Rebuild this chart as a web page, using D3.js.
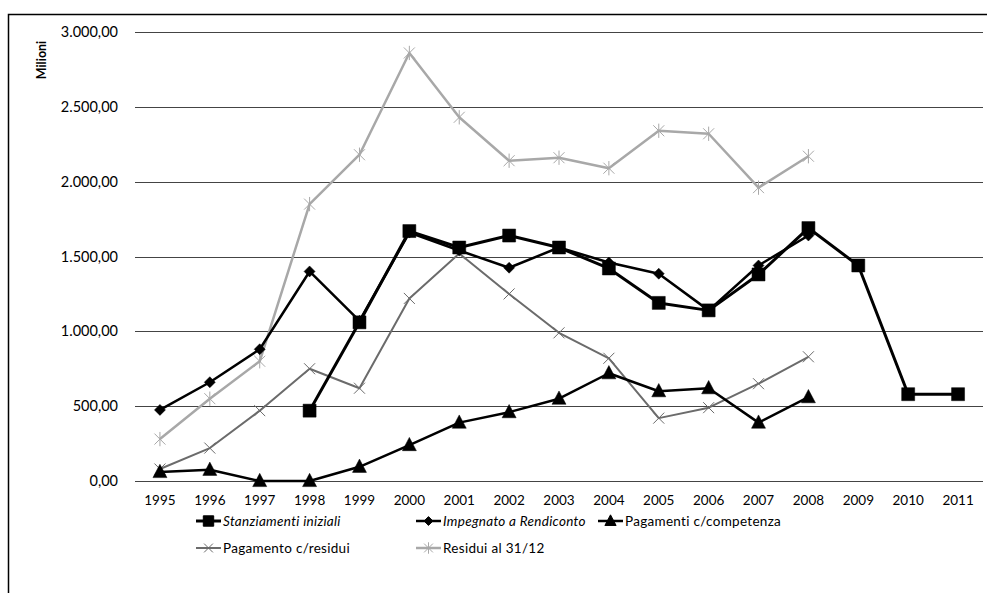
<!DOCTYPE html>
<html>
<head>
<meta charset="utf-8">
<script src="https://cdn.jsdelivr.net/npm/d3@7"></script>
<style>
  body { margin: 0; background: #fff; }
  svg { display: block; font-family: Lato, "Open Sans", sans-serif; }
</style>
</head>
<body>
<div class="chart"></div>
<script>
// -- data (milioni) --
var years = ["1995", "1996", "1997", "1998", "1999", "2000", "2001", "2002",
             "2003", "2004", "2005", "2006", "2007", "2008", "2009", "2010", "2011"];

var stanziamenti = [null, null, null, 470, 1060, 1670, 1560, 1640,
                    1560, 1420, 1190, 1140, 1380, 1690, 1440, 580, 580];
var impegnato = [475, 660, 880, 1400, 1070, 1660, 1540, 1425,
                 1560, 1460, 1385, 1140, 1440, 1640, null, null, null];
var pagCompetenza = [60, 75, 0, 0, 95, 240, 390, 460,
                     550, 720, 600, 620, 390, 560, null, null, null];
var pagResidui = [80, 220, 470, 750, 620, 1220, 1520, 1250,
                  990, 820, 420, 490, 650, 830, null, null, null];
var residui = [280, 550, 800, 1850, 2180, 2860, 2430, 2140,
               2160, 2090, 2340, 2320, 1960, 2170, null, null, null];

var yTicks = [0, 500, 1000, 1500, 2000, 2500, 3000];

var series = [
  {name: "Stanziamenti iniziali", values: stanziamenti, color: "#000", width: 3, symbol: "square", italic: true},
  {name: "Impegnato a Rendiconto", values: impegnato, color: "#000", width: 2.5, symbol: "diamond", italic: true},
  {name: "Pagamenti c/competenza", values: pagCompetenza, color: "#000", width: 2.5, symbol: "triangle", italic: false},
  {name: "Pagamento c/residui", values: pagResidui, color: "#6b6b6b", width: 2, symbol: "cross", italic: false},
  {name: "Residui al 31/12", values: residui, color: "#a8a8a8", width: 2.5, symbol: "star", italic: false}
];

var width = 987, height = 593,
    margin = {top: 32, right: 4, bottom: 112, left: 135};

var svg = d3.select("div.chart").append("svg")
    .attr("width", width)
    .attr("height", height);

// frame (left and top edges only, as in the scan)
svg.append("path")
    .attr("d", "M8.5," + height + "V14.5H" + width)
    .attr("fill", "none")
    .attr("stroke", "#000")
    .attr("stroke-width", 1.5);

var x = d3.scaleBand()
    .domain(years)
    .range([margin.left, width - margin.right]);

var y = d3.scaleLinear()
    .domain([0, 3000])
    .range([height - margin.bottom, margin.top]);

var fmt = function(v) {
  return d3.format(",.2f")(v).replace(/,/g, "#").replace(".", ",").replace(/#/g, ".");
};

// gridlines
svg.append("g")
    .selectAll("line")
    .data(yTicks)
  .enter().append("line")
    .attr("x1", margin.left)
    .attr("x2", width - margin.right)
    .attr("y1", function(d) { return Math.round(y(d)) + 0.5; })
    .attr("y2", function(d) { return Math.round(y(d)) + 0.5; })
    .attr("stroke", "#444")
    .attr("stroke-width", 1);

// y axis labels
svg.append("g")
    .attr("transform", "translate(" + (margin.left - 17) + ",0)")
    .call(d3.axisLeft(y).tickValues(yTicks).tickFormat(fmt).tickSize(0).tickPadding(0))
    .call(function(g) { g.select(".domain").remove(); })
    .selectAll("text")
    .attr("font-size", 14.5)
    .attr("font-family", "Lato, 'Open Sans', sans-serif")
    .attr("fill", "#000");

svg.append("text")
    .attr("transform", "translate(46,60) rotate(-90)")
    .attr("text-anchor", "middle")
    .attr("font-size", 12.5)
    .attr("font-weight", "bold")
    .text("Milioni");

// x axis labels
svg.append("g")
    .attr("transform", "translate(0," + (y(0) + 8) + ")")
    .call(d3.axisBottom(x).tickSize(0).tickPadding(6))
    .call(function(g) { g.select(".domain").remove(); })
    .selectAll("text")
    .attr("font-size", 13.5)
    .attr("font-family", "Lato, 'Open Sans', sans-serif")
    .attr("fill", "#000");

var cx = function(i) { return x(years[i]) + x.bandwidth() / 2; };

var line = d3.line()
    .defined(function(d) { return d != null; })
    .x(function(d, i) { return cx(i); })
    .y(function(d) { return y(d); });

var symbolPath = function(kind, s) {
  if (kind == "square") return "M" + (-s) + "," + (-s) + "h" + 2 * s + "v" + 2 * s + "h" + (-2 * s) + "Z";
  if (kind == "diamond") return "M0," + (-s) + "L" + s + ",0L0," + s + "L" + (-s) + ",0Z";
  if (kind == "triangle") return "M0," + (-s * 1.1) + "L" + s + "," + (s * 0.8) + "L" + (-s) + "," + (s * 0.8) + "Z";
  if (kind == "cross") return "M" + (-s) + "," + (-s) + "L" + s + "," + s + "M" + s + "," + (-s) + "L" + (-s) + "," + s;
  // star: cross plus vertical bar
  return "M" + (-s) + "," + (-s) + "L" + s + "," + s + "M" + s + "," + (-s) + "L" + (-s) + "," + s +
         "M0," + (-s * 1.3) + "V" + (s * 1.3);
};

var symbolSize = {square: 6.5, diamond: 5.5, triangle: 7, cross: 5.5, star: 5.5};

// draw back to front: grays first
series.slice().reverse().forEach(function(s) {
  svg.append("path")
      .datum(s.values)
      .attr("fill", "none")
      .attr("stroke", s.color)
      .attr("stroke-width", s.width)
      .attr("stroke-linejoin", "round")
      .attr("d", line);

  var filled = s.symbol == "square" || s.symbol == "diamond" || s.symbol == "triangle";

  svg.append("g")
      .selectAll("path")
      .data(s.values.map(function(v, i) { return {v: v, i: i}; })
                    .filter(function(d) { return d.v != null; }))
    .enter().append("path")
      .attr("transform", function(d) { return "translate(" + cx(d.i) + "," + y(d.v) + ")"; })
      .attr("d", symbolPath(s.symbol, symbolSize[s.symbol]))
      .attr("fill", filled ? s.color : "none")
      .attr("stroke", s.color)
      .attr("stroke-width", filled ? 0.5 : 1);
});

// legend
var legendPos = [
  {x: 196, y: 521}, {x: 416, y: 521}, {x: 598, y: 521},
  {x: 196, y: 548}, {x: 416, y: 548}
];

var legend = svg.append("g")
    .selectAll("g")
    .data(series)
  .enter().append("g")
    .attr("transform", function(d, i) { return "translate(" + legendPos[i].x + "," + legendPos[i].y + ")"; });

legend.append("line")
    .attr("x1", 0)
    .attr("x2", 25)
    .attr("stroke", function(d) { return d.color; })
    .attr("stroke-width", function(d) { return d.width; });

legend.append("path")
    .attr("transform", "translate(12.5,0)")
    .attr("d", function(d) { return symbolPath(d.symbol, symbolSize[d.symbol] * 0.8); })
    .attr("fill", function(d) { return (d.symbol == "cross" || d.symbol == "star") ? "none" : d.color; })
    .attr("stroke", function(d) { return d.color; })
    .attr("stroke-width", 1);

legend.append("text")
    .attr("x", 27)
    .attr("dy", "0.35em")
    .attr("font-size", 13.5)
    .attr("letter-spacing", 0.3)
    .attr("font-style", function(d) { return d.italic ? "italic" : "normal"; })
    .text(function(d) { return d.name; });
</script>
</body>
</html>
